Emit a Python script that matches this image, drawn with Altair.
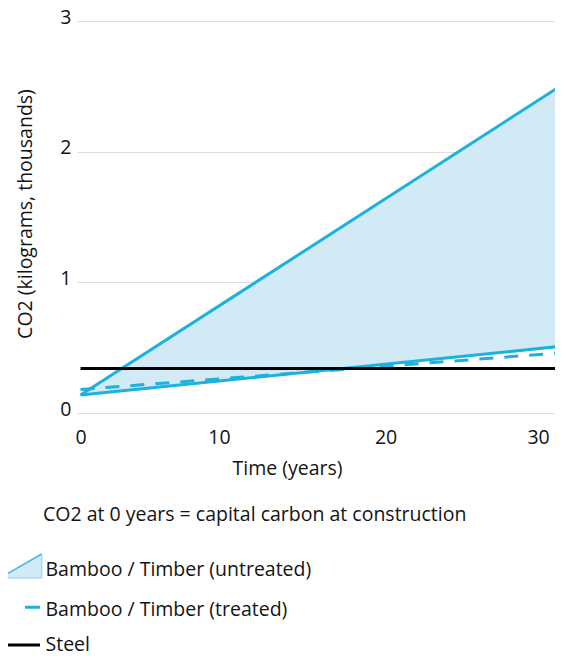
import altair as alt
import pandas as pd

# ---- data ----
years = [0, 31.44]
untreated_upper = [0.137, 2.50]
untreated_lower = [0.137, 0.51]
treated = [0.18, 0.46]
steel = [0.34, 0.34]

x_ticks = [0, 10, 20, 30]
y_grid = [0, 0.5, 1, 1.5, 2, 2.5, 3]

caption = "CO2 at 0 years = capital carbon at construction"
legend_labels = ["Bamboo / Timber (untreated)", "Bamboo / Timber (treated)", "Steel"]

x_title = "Time (years)"
y_title = "CO2 (kilograms, thousands)"

FONT = "Open Sans"
FS = 19.5
TXT = "#141414"
CYAN = "#1cb2dd"
FILL = "#d2eaf6"

df = pd.DataFrame({
    "year": years,
    "upper": untreated_upper,
    "lower": untreated_lower,
    "treated": treated,
    "steel": steel,
})

W, H = 478, 392

xscale = alt.Scale(domain=[-0.23, 31.11], nice=False, zero=False)
yscale = alt.Scale(domain=[0, 3], nice=False)

xaxis = alt.Axis(
    values=x_ticks, grid=False, domain=False, ticks=False,
    labelFontSize=FS, labelPadding=15, labelColor=TXT, labelFont=FONT,
    labelOffset={"condition": {"test": "datum.value == 10", "value": -14}, "value": 0},
    title=x_title, titleFontSize=FS, titleFont=FONT, titleFontWeight="normal",
    titleColor=TXT, titleX=210, titleY=61, titleBaseline="alphabetic", titleAlign="center",
)
yaxis = alt.Axis(
    values=y_grid, grid=True, gridColor="#dedede", gridWidth=1, domain=False, ticks=False,
    format="d",
    labelExpr="datum.value % 1 == 0 ? datum.label : ''",
    labelFontSize=FS, labelPadding=6, labelColor=TXT, labelFont=FONT,
    labelBaseline="alphabetic", labelOffset=2,
    title=y_title, titleFontSize=FS, titleFont=FONT, titleFontWeight="normal",
    titleColor=TXT, titleX=-45.5, titleY=192.5, titleBaseline="alphabetic",
    titleAlign="center", titleAngle=-90,
)

base = alt.Chart(df)

area = base.mark_area(color=FILL, opacity=1, clip=True).encode(
    x=alt.X("year:Q", scale=xscale, axis=xaxis),
    y=alt.Y("upper:Q", scale=yscale, axis=yaxis),
    y2="lower:Q",
)
line_upper = base.mark_line(color=CYAN, strokeWidth=3, clip=True).encode(
    x=alt.X("year:Q", scale=xscale), y=alt.Y("upper:Q", scale=yscale))
line_lower = base.mark_line(color=CYAN, strokeWidth=3, clip=True).encode(
    x=alt.X("year:Q", scale=xscale), y=alt.Y("lower:Q", scale=yscale))
line_treated = base.mark_line(color=CYAN, strokeWidth=3, strokeDash=[14, 11], clip=True).encode(
    x=alt.X("year:Q", scale=xscale), y=alt.Y("treated:Q", scale=yscale))
line_steel = base.mark_line(color="#000", strokeWidth=3, clip=True).encode(
    x=alt.X("year:Q", scale=xscale), y=alt.Y("steel:Q", scale=yscale))

# ---- caption and legend (pixel positions relative to plot origin) ----
cap_df = pd.DataFrame({"t": [caption]})
cap = alt.Chart(cap_df).mark_text(
    align="left", baseline="alphabetic", fontSize=FS, font=FONT, color=TXT
).encode(text="t:N", x=alt.value(-34), y=alt.value(500))

leg_layers = []
text_y = [554.6, 594.6, 630]
for i, lab in enumerate(legend_labels):
    ldf = pd.DataFrame({"t": [lab]})
    leg_layers.append(alt.Chart(ldf).mark_text(
        align="left", baseline="alphabetic", fontSize=FS, font=FONT, color=TXT
    ).encode(text="t:N", x=alt.value(-31.5), y=alt.value(text_y[i])))

one = pd.DataFrame({"k": [0]})
tri = alt.Chart(one).mark_point(
    shape="M-1,0.571 L1,0.571 L1,-0.571 Z", size=1764, filled=True,
    fill=FILL, stroke="#8fd0ee", strokeWidth=1, opacity=1
).encode(x=alt.value(-56.15), y=alt.value(545))
tri_edge = alt.Chart(one).mark_rule(color="#4cb9e6", strokeWidth=1.5).encode(
    x=alt.value(-77), x2=alt.value(-35.3), y=alt.value(557), y2=alt.value(533))
dash_icon = alt.Chart(one).mark_rule(color=CYAN, strokeWidth=3, strokeDash=[15, 17]).encode(
    x=alt.value(-37), x2=alt.value(-77), y=alt.value(586.3), y2=alt.value(586.3))
steel_icon = alt.Chart(one).mark_rule(color="#000", strokeWidth=3).encode(
    x=alt.value(-77), x2=alt.value(-37), y=alt.value(624), y2=alt.value(624))

chart = alt.layer(
    area, line_lower, line_treated, line_upper, line_steel,
    cap, tri, tri_edge, dash_icon, steel_icon, *leg_layers
).properties(
    width=W, height=H,
    autosize=alt.AutoSizeParams(type="none"),
    padding={"left": 69, "top": 13, "right": 0, "bottom": 238},
).configure_view(stroke=None)

chart.save("out.html", embed_options={"renderer": "svg", "actions": False})
